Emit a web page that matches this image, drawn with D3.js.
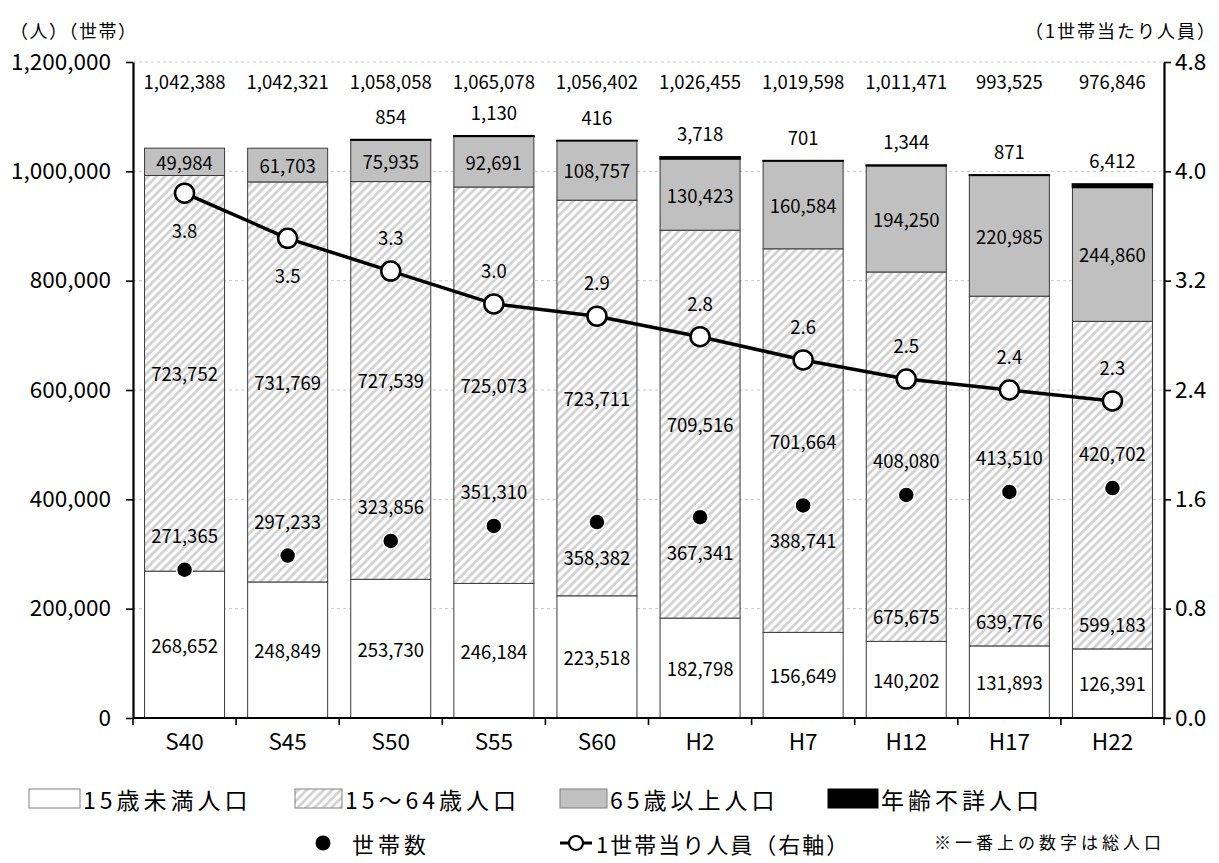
<!DOCTYPE html>
<html>
<head>
<meta charset="utf-8">
<script src="https://cdn.jsdelivr.net/npm/d3@7"></script>
<style>
  body { margin: 0; background: #fff; }
  svg text { font-family: "Noto Sans CJK JP", "Noto Sans", sans-serif; fill: #000; }
</style>
</head>
<body>
<svg id="chart" width="1219" height="863"></svg>
<script>
// data
const years = ['S40', 'S45', 'S50', 'S55', 'S60', 'H2', 'H7', 'H12', 'H17', 'H22'];
const under15 = [268652, 248849, 253730, 246184, 223518, 182798, 156649, 140202, 131893, 126391];
const working = [723752, 731769, 727539, 725073, 723711, 709516, 701664, 675675, 639776, 599183];
const elderly = [49984, 61703, 75935, 92691, 108757, 130423, 160584, 194250, 220985, 244860];
const unknown = [0, 0, 854, 1130, 416, 3718, 701, 1344, 871, 6412];
const totals = [1042388, 1042321, 1058058, 1065078, 1056402, 1026455, 1019598, 1011471, 993525, 976846];
const households = [271365, 297233, 323856, 351310, 358382, 367341, 388741, 408080, 413510, 420702];
const perHousehold = [3.84, 3.51, 3.27, 3.03, 2.94, 2.79, 2.62, 2.48, 2.40, 2.32];
const leftTicks = [0, 200000, 400000, 600000, 800000, 1000000, 1200000];
const rightTicks = [0, 0.8, 1.6, 2.4, 3.2, 4.0, 4.8];

// where the labels sit, as in the original
const workingLabelAt = ['mid', 'mid', 'mid', 'mid', 'mid', 'mid', 'mid', 'low', 'low', 'low'];
const hhLabelAt = ['up', 'up', 'up', 'up', 'down', 'down', 'down', 'up', 'up', 'up'];
const pphLabelAt = ['down', 'down', 'up', 'up', 'up', 'up', 'up', 'up', 'up', 'up'];

const rows = years.map((yr, i) => ({
  year: yr,
  under15: under15[i],
  working: working[i],
  elderly: elderly[i],
  unknown: unknown[i],
  total: totals[i],
  households: households[i],
  pph: perHousehold[i],
}));

const keys = ['under15', 'working', 'elderly', 'unknown'];
const fills = {
  under15: '#ffffff',
  working: 'url(#hatch)',
  elderly: '#c0c0c0',
  unknown: '#000000',
};

const svg = d3.select('#chart');
const plotLeft = 133, plotRight = 1164, plotTop = 62, plotBottom = 718;

const x = d3.scaleBand().domain(years).range([plotLeft, plotRight]).paddingInner(0.224).paddingOuter(0.112);
const y = d3.scaleLinear().domain([0, 1200000]).range([plotBottom, plotTop]);
const y2 = d3.scaleLinear().domain([0, 4.8]).range([plotBottom, plotTop]);
const fmt = d3.format(',');

// hatch pattern
const defs = svg.append('defs');
const pat = defs.append('pattern')
  .attr('id', 'hatch')
  .attr('patternUnits', 'userSpaceOnUse')
  .attr('width', 6)
  .attr('height', 6)
  .attr('patternTransform', 'rotate(45)');
pat.append('rect').attr('width', 6).attr('height', 6).attr('fill', '#fff');
pat.append('line')
  .attr('x1', 1.5).attr('x2', 1.5).attr('y1', 0).attr('y2', 6)
  .attr('stroke', '#cfcfcf').attr('stroke-width', 2.6);

// gridlines
svg.append('g')
  .selectAll('line')
  .data(leftTicks.filter(d => d > 0))
  .join('line')
    .attr('x1', plotLeft).attr('x2', plotRight)
    .attr('y1', d => y(d)).attr('y2', d => y(d))
    .attr('stroke', '#c8c8c8')
    .attr('stroke-dasharray', '3,3');

// stacked bars
const stacked = d3.stack().keys(keys)(rows);
svg.append('g')
  .selectAll('g')
  .data(stacked)
  .join('g')
    .attr('fill', d => fills[d.key])
  .selectAll('rect')
  .data(d => d.map(v => Object.assign(v, { key: d.key })))
  .join('rect')
    .attr('x', d => x(d.data.year))
    .attr('width', x.bandwidth())
    .attr('y', d => y(d[1]))
    .attr('height', d => y(d[0]) - y(d[1]))
    .attr('stroke', d => d.key === 'unknown' ? '#000' : '#3a3a3a')
    .attr('stroke-width', d => d.key === 'unknown' && d.data.unknown > 0 ? 1.6 : 1)
    .attr('display', d => d.key === 'unknown' && d.data.unknown === 0 ? 'none' : null);

// axes
const axisLeft = svg.append('g')
  .attr('transform', `translate(${plotLeft},0)`)
  .call(d3.axisLeft(y).tickValues(leftTicks).tickFormat(fmt).tickSize(7).tickSizeOuter(0).tickPadding(15));
const axisRight = svg.append('g')
  .attr('transform', `translate(${plotRight},0)`)
  .call(d3.axisRight(y2).tickValues(rightTicks).tickFormat(d3.format('.1f')).tickSize(7).tickSizeOuter(0).tickPadding(4));
const axisBottom = svg.append('g')
  .attr('transform', `translate(0,${plotBottom})`)
  .call(d3.axisBottom(x).tickSize(0).tickSizeOuter(0).tickPadding(16));

[axisLeft, axisRight, axisBottom].forEach(g => {
  g.select('.domain').attr('stroke', '#000').attr('stroke-width', 2.2);
  g.selectAll('.tick line').attr('stroke', '#000').attr('stroke-width', 1.6);
  g.selectAll('.tick text')
    .attr('font-size', 22.5)
    .style('font-family', '"Noto Sans CJK JP", sans-serif')
    .attr('fill', '#000');
});
axisBottom.select('.domain').attr('d', `M${plotLeft},0H${plotRight}`);

// category boundary ticks on the x axis
axisBottom.selectAll('line.boundary')
  .data(d3.range(years.length + 1))
  .join('line')
    .attr('class', 'boundary')
    .attr('x1', i => plotLeft + i * x.step())
    .attr('x2', i => plotLeft + i * x.step())
    .attr('y1', 0).attr('y2', 7)
    .attr('stroke', '#000').attr('stroke-width', 1.6);

// axis titles
svg.append('text')
  .attr('x', 10).attr('y', 30)
  .attr('dominant-baseline', 'central')
  .attr('font-size', 18)
  .attr('letter-spacing', 1.5)
  .text('（人）（世帯）');
svg.append('text')
  .attr('x', 1217).attr('y', 30)
  .attr('dominant-baseline', 'central')
  .attr('text-anchor', 'end')
  .attr('font-size', 18)
  .attr('letter-spacing', 2)
  .text('（1世帯当たり人員）');

// persons per household line
const cx = d => x(d.year) + x.bandwidth() / 2;
svg.append('path')
  .datum(rows)
  .attr('fill', 'none')
  .attr('stroke', '#000')
  .attr('stroke-width', 3.5)
  .attr('d', d3.line().x(cx).y(d => y2(d.pph)));
svg.append('g')
  .selectAll('circle')
  .data(rows)
  .join('circle')
    .attr('cx', cx)
    .attr('cy', d => y2(d.pph))
    .attr('r', 9.5)
    .attr('fill', '#fff')
    .attr('stroke', '#000')
    .attr('stroke-width', 2.5);

// household dots
svg.append('g')
  .selectAll('circle')
  .data(rows)
  .join('circle')
    .attr('cx', cx)
    .attr('cy', d => y(d.households))
    .attr('r', 8)
    .attr('fill', '#000')
    .attr('stroke', '#fff')
    .attr('stroke-width', 1.5);

// value labels
const labels = svg.append('g')
  .attr('font-size', 18.5)
  .attr('text-anchor', 'middle');

function label(xp, yp, txt) {
  labels.append('text').attr('x', xp).attr('y', yp).attr('dominant-baseline', 'central').text(txt);
}

rows.forEach((d, i) => {
  const c = cx(d);
  const s0 = d.under15;
  const s1 = s0 + d.working;
  const s2 = s1 + d.elderly;
  const s3 = s2 + d.unknown;
  label(c, 81, fmt(d.total));
  if (d.unknown > 0) label(c, y(s3) - 24, fmt(d.unknown));
  label(c, (y(s1) + y(s2)) / 2, fmt(d.elderly));
  label(c, workingLabelAt[i] === 'mid' ? (y(s0) + y(s1)) / 2 : y(s0) - 25, fmt(d.working));
  label(c, (y(0) + y(s0)) / 2, fmt(d.under15));
  label(c, y(d.households) + (hhLabelAt[i] === 'up' ? -35 : 35), fmt(d.households));
  label(c, y2(d.pph) + (pphLabelAt[i] === 'up' ? -34 : 37), d3.format('.1f')(d.pph));
});

// legend
const legendBoxes = [
  { x: 29, w: 51, text: '15歳未満人口', fill: '#ffffff' },
  { x: 295, w: 47, text: '15～64歳人口', fill: 'url(#hatch)' },
  { x: 560, w: 47, text: '65歳以上人口', fill: '#c0c0c0' },
  { x: 828, w: 50, text: '年齢不詳人口', fill: '#000000' },
];
const lg = svg.append('g');
legendBoxes.forEach(b => {
  lg.append('rect')
    .attr('x', b.x).attr('y', 789)
    .attr('width', b.w).attr('height', 19)
    .attr('fill', b.fill)
    .attr('stroke', b.fill === '#000000' ? '#000' : '#808080');
  lg.append('text')
    .attr('x', b.x + b.w + 3).attr('y', 799)
    .attr('dominant-baseline', 'central')
    .attr('font-size', 23)
    .attr('letter-spacing', 4)
    .text(b.text);
});

const row2 = 843;
lg.append('circle').attr('cx', 323).attr('cy', row2).attr('r', 7.5).attr('fill', '#000');
lg.append('text')
  .attr('x', 352).attr('y', row2)
  .attr('dominant-baseline', 'central')
  .attr('font-size', 22)
  .attr('letter-spacing', 4)
  .text('世帯数');

lg.append('line')
  .attr('x1', 560).attr('x2', 592).attr('y1', row2).attr('y2', row2)
  .attr('stroke', '#000').attr('stroke-width', 3);
lg.append('circle')
  .attr('cx', 576).attr('cy', row2).attr('r', 7)
  .attr('fill', '#fff').attr('stroke', '#000').attr('stroke-width', 2.2);
lg.append('text')
  .attr('x', 596).attr('y', row2)
  .attr('dominant-baseline', 'central')
  .attr('font-size', 22)
  .attr('letter-spacing', 2)
  .text('1世帯当り人員（右軸）');

lg.append('text')
  .attr('x', 934).attr('y', row2 - 2)
  .attr('dominant-baseline', 'central')
  .attr('font-size', 17)
  .attr('letter-spacing', 4)
  .text('※一番上の数字は総人口');
</script>
</body>
</html>
